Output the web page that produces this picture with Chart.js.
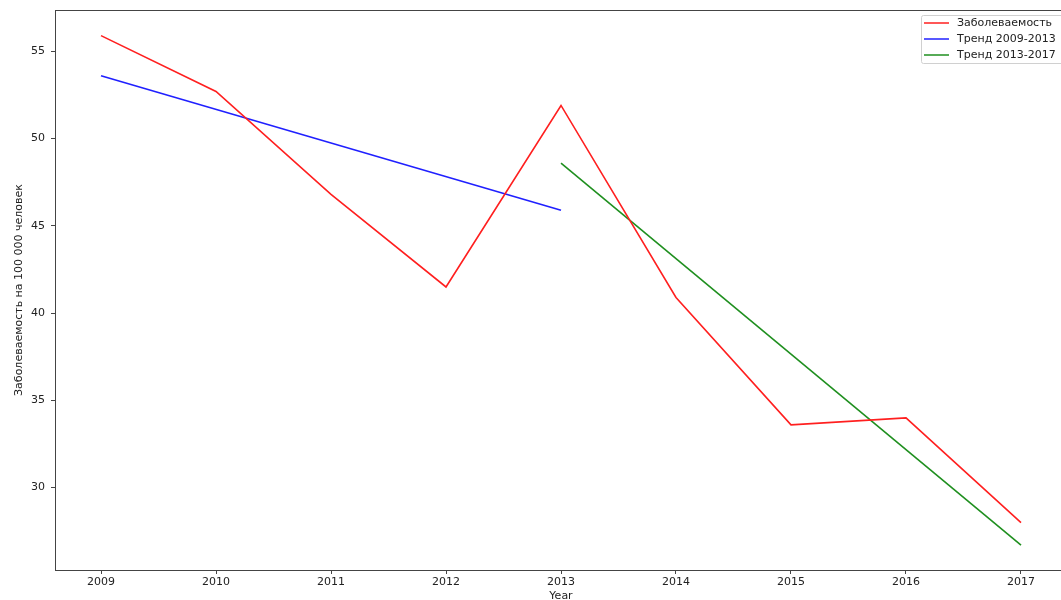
<!DOCTYPE html>
<html>
<head>
<meta charset="utf-8">
<script src="https://cdn.jsdelivr.net/npm/chart.js@4.4.0/dist/chart.umd.min.js"></script>
<style>
  html, body { margin: 0; padding: 0; background: #fff; overflow: hidden; }
  #wrap { width: 1061px; height: 600px; overflow: hidden; }
  #box { width: 1070px; height: 600px; }
</style>
</head>
<body>
<div id="wrap"><div id="box"><canvas id="morbChart"></canvas></div></div>
<script>
// values
const years = [2009, 2010, 2011, 2012, 2013, 2014, 2015, 2016, 2017];
const morbidity = [55.9, 52.7, 46.8, 41.5, 51.9, 40.9, 33.6, 34.0, 28.0];
const trend1Years = [2009, 2013];
const trend1 = [53.6, 45.9];
const trend2Years = [2013, 2017];
const trend2 = [48.6, 26.7];
const yTicks = [30, 35, 40, 45, 50, 55];
const seriesNames = ["Заболеваемость", "Тренд 2009-2013", "Тренд 2013-2017"];

const pts = (xs, ys) => xs.map((x, i) => ({ x: x, y: ys[i] }));
const FONT = "DejaVu Sans";

// box around plot + legend drawn inside the axes, matplotlib style
const framePlugin = {
  id: "frame",
  afterDraw(chart) {
    const { ctx, chartArea: a } = chart;
    ctx.save();
    ctx.strokeStyle = "#444";
    ctx.lineWidth = 1;
    ctx.strokeRect(a.left + 0.5, a.top + 0.5, a.right - a.left, a.bottom - a.top);

    const x0 = 921, y0 = 15, w = 150, h = 48;
    ctx.fillStyle = "rgba(255,255,255,0.8)";
    ctx.strokeStyle = "#d0d0d0";
    ctx.beginPath();
    ctx.roundRect(x0 + 0.5, y0 + 0.5, w, h, 2);
    ctx.fill();
    ctx.stroke();
    ctx.font = "11px '" + FONT + "'";
    ctx.textBaseline = "middle";
    chart.data.datasets.forEach((ds, i) => {
      const y = y0 + 8 + i * 16;
      ctx.strokeStyle = ds.borderColor;
      ctx.lineWidth = 1.5;
      ctx.beginPath();
      ctx.moveTo(924, y);
      ctx.lineTo(949, y);
      ctx.stroke();
      ctx.fillStyle = "#222";
      ctx.fillText(ds.label, 957, y);
    });
    ctx.restore();
  }
};

new Chart(document.getElementById("morbChart"), {
  type: "line",
  data: {
    datasets: [{
      label: seriesNames[0],
      data: pts(years, morbidity),
      borderColor: "#ff1f1f",
      borderWidth: 1.6,
      pointRadius: 0,
      tension: 0
    }, {
      label: seriesNames[1],
      data: pts(trend1Years, trend1),
      borderColor: "#2020ff",
      borderWidth: 1.6,
      pointRadius: 0
    }, {
      label: seriesNames[2],
      data: pts(trend2Years, trend2),
      borderColor: "#1f8f1f",
      borderWidth: 1.6,
      pointRadius: 0
    }]
  },
  options: {
    responsive: true,
    maintainAspectRatio: false,
    animation: false,
    layout: { padding: { top: 10, right: 3, left: 0, bottom: 0 } },
    plugins: { legend: { display: false }, tooltip: { enabled: false } },
    scales: {
      x: {
        type: "linear",
        min: 2008.6,
        max: 2017.4,
        grid: { display: true, drawOnChartArea: false, drawTicks: true, tickLength: 4, color: "#444" },
        border: { display: true, color: "#444" },
        ticks: {
          autoSkip: false,
          maxRotation: 0,
          color: "#222",
          font: { family: FONT, size: 11 },
          padding: 2,
          callback: v => String(v)
        },
        afterBuildTicks: s => { s.ticks = years.map(v => ({ value: v })); },
        title: {
          display: true,
          text: "Year",
          color: "#222",
          font: { family: FONT, size: 11 },
          padding: { top: 0, bottom: -3 }
        },
        afterFit: s => { s.height = 30; s.paddingLeft = 0; s.paddingRight = 0; }
      },
      y: {
        min: 25.28,
        max: 57.37,
        grid: { display: true, drawOnChartArea: false, drawTicks: true, tickLength: 4, color: "#444" },
        border: { display: true, color: "#444" },
        ticks: {
          color: "#222",
          font: { family: FONT, size: 11 },
          padding: 6,
          callback: v => String(v)
        },
        afterBuildTicks: s => { s.ticks = yTicks.map(v => ({ value: v })); },
        title: {
          display: true,
          text: "Заболеваемость на 100 000 человек",
          color: "#222",
          font: { family: FONT, size: 11 },
          padding: { top: 13, bottom: 0 }
        },
        afterFit: s => { s.width = 55; s.paddingTop = 0; s.paddingBottom = 0; }
      }
    }
  },
  plugins: [framePlugin]
});
</script>
</body>
</html>
